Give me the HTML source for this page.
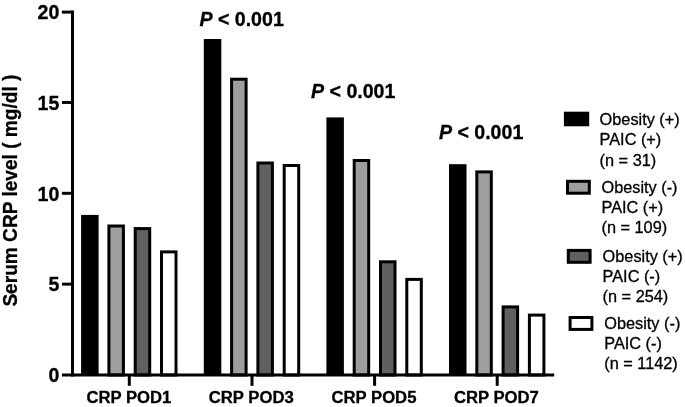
<!DOCTYPE html><html><head><meta charset="utf-8"><style>html,body{margin:0;padding:0;background:#fff}svg{display:block}text{font-family:"Liberation Sans",sans-serif;fill:#000}.b{font-weight:bold;stroke:#000;stroke-width:0.3}.r{stroke:#000;stroke-width:0.3}</style></head><body>
<svg width="685" height="407" viewBox="0 0 685 407">
<rect width="685" height="407" fill="#fff"/>
<rect x="81.10" y="214.90" width="17.5" height="160.10" fill="#000"/>
<rect x="108.90" y="226.00" width="14.50" height="149.00" fill="#9e9e9e" stroke="#000" stroke-width="3.0"/>
<rect x="135.20" y="228.60" width="14.50" height="146.40" fill="#606060" stroke="#000" stroke-width="3.0"/>
<rect x="161.50" y="251.90" width="14.50" height="123.10" fill="#fff" stroke="#000" stroke-width="3.0"/>
<rect x="203.80" y="39.00" width="17.5" height="336.00" fill="#000"/>
<rect x="231.60" y="79.20" width="14.50" height="295.80" fill="#9e9e9e" stroke="#000" stroke-width="3.0"/>
<rect x="257.90" y="163.00" width="14.50" height="212.00" fill="#606060" stroke="#000" stroke-width="3.0"/>
<rect x="284.20" y="165.50" width="14.50" height="209.50" fill="#fff" stroke="#000" stroke-width="3.0"/>
<rect x="326.40" y="117.40" width="17.5" height="257.60" fill="#000"/>
<rect x="354.20" y="160.50" width="14.50" height="214.50" fill="#9e9e9e" stroke="#000" stroke-width="3.0"/>
<rect x="380.50" y="261.80" width="14.50" height="113.20" fill="#606060" stroke="#000" stroke-width="3.0"/>
<rect x="406.80" y="279.40" width="14.50" height="95.60" fill="#fff" stroke="#000" stroke-width="3.0"/>
<rect x="449.00" y="164.20" width="17.5" height="210.80" fill="#000"/>
<rect x="476.80" y="171.90" width="14.50" height="203.10" fill="#9e9e9e" stroke="#000" stroke-width="3.0"/>
<rect x="503.10" y="306.90" width="14.50" height="68.10" fill="#606060" stroke="#000" stroke-width="3.0"/>
<rect x="529.40" y="315.10" width="14.50" height="59.90" fill="#fff" stroke="#000" stroke-width="3.0"/>
<path d="M72.5 10.60V376.50" stroke="#000" stroke-width="3.0" fill="none"/>
<path d="M61.9 375.0H554.2" stroke="#000" stroke-width="3.0" fill="none"/>
<path d="M61.9 284.15H73" stroke="#000" stroke-width="3.0"/>
<path d="M61.9 193.30H73" stroke="#000" stroke-width="3.0"/>
<path d="M61.9 102.45H73" stroke="#000" stroke-width="3.0"/>
<path d="M61.9 12.10H73" stroke="#000" stroke-width="3.0"/>
<text class="b" transform="translate(59.40,382.30) scale(1,1.05)" font-size="19.6" text-anchor="end">0</text>
<text class="b" transform="translate(59.40,291.45) scale(1,1.05)" font-size="19.6" text-anchor="end">5</text>
<text class="b" transform="translate(59.40,200.60) scale(1,1.05)" font-size="19.6" text-anchor="end">10</text>
<text class="b" transform="translate(59.40,109.75) scale(1,1.05)" font-size="19.6" text-anchor="end">15</text>
<text class="b" transform="translate(59.40,19.40) scale(1,1.05)" font-size="19.6" text-anchor="end">20</text>
<path d="M129.30 375.0V385.8" stroke="#000" stroke-width="3.0"/>
<text class="b" transform="translate(128.90,403.10) scale(1,1.03)" font-size="16.7" text-anchor="middle">CRP POD1</text>
<path d="M252.00 375.0V385.8" stroke="#000" stroke-width="3.0"/>
<text class="b" transform="translate(251.25,403.10) scale(1,1.03)" font-size="16.7" text-anchor="middle">CRP POD3</text>
<path d="M374.60 375.0V385.8" stroke="#000" stroke-width="3.0"/>
<text class="b" transform="translate(373.95,403.10) scale(1,1.03)" font-size="16.7" text-anchor="middle">CRP POD5</text>
<path d="M497.20 375.0V385.8" stroke="#000" stroke-width="3.0"/>
<text class="b" transform="translate(496.40,403.10) scale(1,1.03)" font-size="16.7" text-anchor="middle">CRP POD7</text>
<text class="b" transform="translate(17.20,190.60) rotate(-90) scale(1,1.05)" font-size="19.1" text-anchor="middle">Serum CRP level ( mg/dl )</text>
<text class="b" transform="translate(199.40,26.00) scale(1,1.05)" font-size="19.6" text-anchor="start"><tspan font-style="italic">P</tspan> &lt; 0.001</text>
<text class="b" transform="translate(311.00,97.90) scale(1,1.05)" font-size="19.6" text-anchor="start"><tspan font-style="italic">P</tspan> &lt; 0.001</text>
<text class="b" transform="translate(438.90,139.40) scale(1,1.05)" font-size="19.6" text-anchor="start"><tspan font-style="italic">P</tspan> &lt; 0.001</text>
<rect x="563.9" y="111.7" width="25.3" height="14.6" fill="#000"/>
<text class="r" transform="translate(599.60,125.20) scale(1,1.03)" font-size="16.3" text-anchor="start">Obesity (+)</text>
<text class="r" transform="translate(599.60,145.40) scale(1,1.03)" font-size="16.3" text-anchor="start">PAIC (+)</text>
<text class="r" transform="translate(599.60,165.60) scale(1,1.03)" font-size="16.3" text-anchor="start">(n = 31)</text>
<rect x="567.50" y="181.30" width="21.80" height="11.90" fill="#9e9e9e" stroke="#000" stroke-width="3.0"/>
<text class="r" transform="translate(601.50,192.50) scale(1,1.03)" font-size="16.3" text-anchor="start">Obesity (-)</text>
<text class="r" transform="translate(601.50,212.70) scale(1,1.03)" font-size="16.3" text-anchor="start">PAIC (+)</text>
<text class="r" transform="translate(601.50,232.90) scale(1,1.03)" font-size="16.3" text-anchor="start">(n = 109)</text>
<rect x="568.30" y="250.40" width="21.80" height="11.90" fill="#606060" stroke="#000" stroke-width="3.0"/>
<text class="r" transform="translate(602.60,261.60) scale(1,1.03)" font-size="16.3" text-anchor="start">Obesity (+)</text>
<text class="r" transform="translate(602.60,281.80) scale(1,1.03)" font-size="16.3" text-anchor="start">PAIC (-)</text>
<text class="r" transform="translate(602.60,302.00) scale(1,1.03)" font-size="16.3" text-anchor="start">(n = 254)</text>
<rect x="570.10" y="317.50" width="21.80" height="11.90" fill="#fff" stroke="#000" stroke-width="3.0"/>
<text class="r" transform="translate(604.30,328.60) scale(1,1.03)" font-size="16.3" text-anchor="start">Obesity (-)</text>
<text class="r" transform="translate(604.30,348.80) scale(1,1.03)" font-size="16.3" text-anchor="start">PAIC (-)</text>
<text class="r" transform="translate(604.30,369.00) scale(1,1.03)" font-size="16.3" text-anchor="start">(n = 1142)</text>
</svg></body></html>
